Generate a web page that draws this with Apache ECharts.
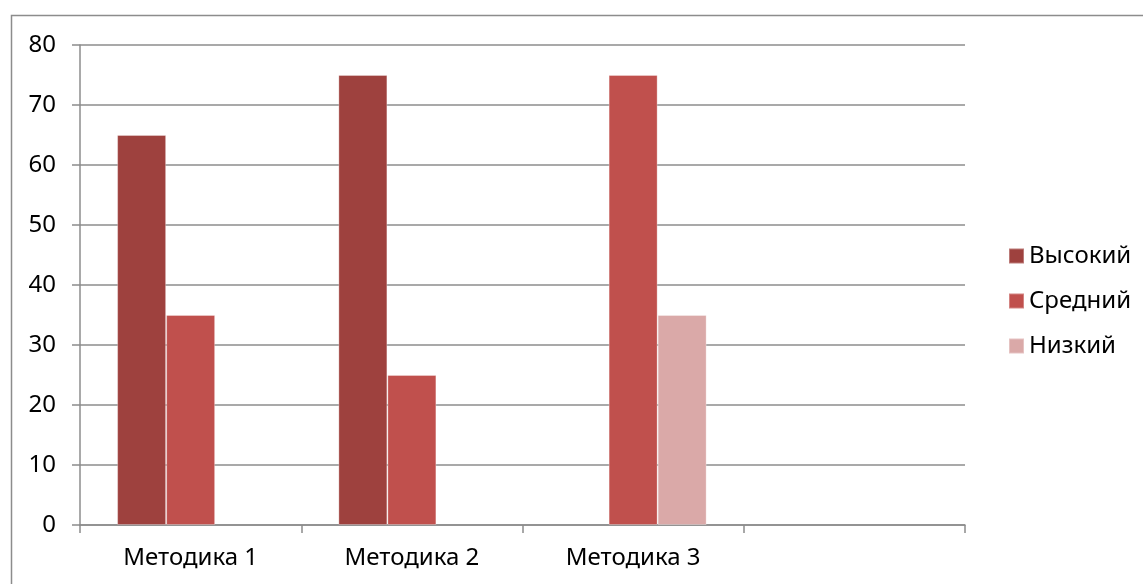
<!DOCTYPE html>
<html><head><meta charset="utf-8">
<script src="https://cdn.jsdelivr.net/npm/echarts@6/dist/echarts.min.js"></script>
<style>html,body{margin:0;padding:0;background:#fff}#c{width:1143px;height:584px}</style>
</head><body><div id="c"></div>
<script>
const categories = ['Методика 1', 'Методика 2', 'Методика 3', ''];
const seriesNames = ['Высокий', 'Средний', 'Низкий'];
const vysokiy = [65, 75, null, null];
const sredniy = [35, 25, 75, null];
const nizkiy = [null, null, 35, null];
const yTicks = { min: 0, max: 80, interval: 10 };
const colors = ['#9E413E', '#C0504D', '#DAA9A8'];

const chart = echarts.init(document.getElementById('c'));
const font = 'Noto Sans';
const FS = 24;
const mk = (name, data, i) => ({
  name, type: 'bar', data, barWidth: 49, barGap: '0%',
  itemStyle: { color: colors[i], borderColor: 'rgba(255,255,255,0.3)', borderWidth: 1 },
  emphasis: { disabled: true }
});
chart.setOption({
  animation: false,
  graphic: [{ type: 'rect', shape: { x: 11.5, y: 15.5, width: 1200, height: 700 },
    style: { fill: 'none', stroke: '#8c8c8c', lineWidth: 1.5 }, silent: true }],
  grid: { left: 80, top: 45, right: 178, bottom: 59 },
  legend: {
    orient: 'vertical', left: 1003, top: 239, itemWidth: 15, itemHeight: 15, itemGap: 21,
    icon: 'rect', data: seriesNames,
    textStyle: { fontSize: FS, color: '#000', fontFamily: font, lineHeight: 24 }
  },
  xAxis: {
    type: 'category', data: categories,
    axisLine: { lineStyle: { color: '#8c8c8c', width: 1.5 } },
    axisTick: { show: true, length: 8, lineStyle: { color: '#8c8c8c', width: 1.5 } },
    axisLabel: { fontSize: FS, color: '#000', margin: 21, fontFamily: font }
  },
  yAxis: {
    type: 'value', min: yTicks.min, max: yTicks.max, interval: yTicks.interval,
    axisLine: { show: true, lineStyle: { color: '#8c8c8c', width: 1.5 } },
    axisTick: { show: true, length: 8, lineStyle: { color: '#8c8c8c', width: 1.5 } },
    splitLine: { lineStyle: { color: '#8c8c8c', width: 1.5 } },
    axisLabel: { fontSize: FS, color: '#000', margin: 24, fontFamily: font }
  },
  series: [mk(seriesNames[0], vysokiy, 0), mk(seriesNames[1], sredniy, 1), mk(seriesNames[2], nizkiy, 2)]
});
</script></body></html>
